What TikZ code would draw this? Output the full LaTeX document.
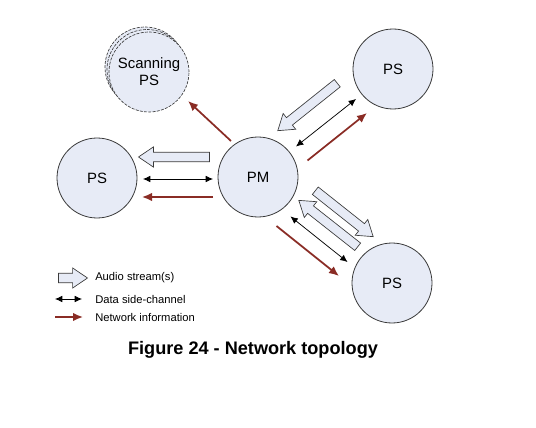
\documentclass[tikz,border=0pt]{standalone}
\usepackage{fontspec}
\setmainfont{Liberation Sans}
\usepackage{tikz}
\usetikzlibrary{arrows.meta,calc,shapes.arrows}
\definecolor{Lav}{HTML}{E7EBF6}
\definecolor{Edge}{HTML}{3A3A3A}
\definecolor{Net}{HTML}{8A2C25}

\begin{document}
\begin{tikzpicture}[x=0.75pt,y=-0.75pt,
    ps/.style={circle,draw=Edge,fill=Lav,line width=0.6pt,minimum size=60pt,inner sep=0pt,align=center,font=\fontsize{11.2}{12.8}\selectfont},
    aud/.style={single arrow,draw=Edge,fill=Lav,line width=0.5pt,inner sep=0pt,text height=3.3pt,text depth=3.3pt,single arrow head extend=4pt,single arrow tip angle=68},
    dat/.style={{Latex[length=5.5pt,width=5pt]}-{Latex[length=5.5pt,width=5pt]},line width=0.55pt},
    net/.style={-{Latex[length=7.5pt,width=6.5pt]},line width=1.3pt,draw=Net},
    lg/.style={anchor=west,inner sep=0pt,font=\fontsize{8.4}{10}\selectfont}]
  \useasboundingbox (0,0) rectangle (536,428);
  % stations
  \node[ps,dashed,dash pattern=on 2.2pt off 1pt,line width=0.5pt] (scan3) at (145,67) {};
  \node[ps,dashed,dash pattern=on 2.2pt off 1pt,line width=0.5pt] (scan2) at (147,69.5) {};
  \node[ps,dashed,dash pattern=on 2.2pt off 1pt,line width=0.5pt] (scan) at (149,72) {Scanning\\PS};
  \node[ps] (psL) at (97,178) {PS};
  \node[ps] (pm) at (258,177) {PM};
  \node[ps] (psTR) at (393,69) {PS};
  \node[ps] (psBR) at (392,283) {PS};
  % arrow ends
  \coordinate (auL1) at (213,157);   \coordinate (auL2) at (142,157);
  \coordinate (daL1) at (213,179);   \coordinate (daL2) at (143,179);
  \coordinate (neL1) at (213,197);   \coordinate (neL2) at (142,197);
  \coordinate (auT1) at (340,81);    \coordinate (auT2) at (280.5,128.5);
  \coordinate (daT1) at (296,146.5); \coordinate (daT2) at (356,99);
  \coordinate (neT1) at (307.5,160.5); \coordinate (neT2) at (367,113);
  \coordinate (auB1) at (312.5,188.5); \coordinate (auB2) at (370.5,234.5);
  \coordinate (auB3) at (360.5,249); \coordinate (auB4) at (301.5,202.5);
  \coordinate (daB1) at (290.5,216.5); \coordinate (daB2) at (347.5,262);
  \coordinate (neB1) at (276.5,226); \coordinate (neB2) at (339,276);
  \coordinate (neS1) at (231,141);   \coordinate (neS2) at (188,101);
  % legend ends
  \coordinate (lgA1) at (55,278);    \coordinate (lgA2) at (84,278);
  \coordinate (lgD1) at (55,299);    \coordinate (lgD2) at (82,299);
  \coordinate (lgN1) at (55,317);    \coordinate (lgN2) at (83,317);
  % audio streams
  \foreach \s/\t in {auL1/auL2,auT1/auT2,auB1/auB2,auB3/auB4,lgA1/lgA2}
    \path let \p1=($(\t)-(\s)$), \n1={veclen(\x1,\y1)} in
      (\s) -- node[aud,sloped,allow upside down,minimum height=\n1] (\s-arr) {} (\t);
  % side channels and network info
  \foreach \s/\t in {daL1/daL2,daT1/daT2,daB1/daB2,lgD1/lgD2}
    \draw[dat] (\s) -- (\t);
  \foreach \s/\t in {neL1/neL2,neT1/neT2,neB1/neB2,neS1/neS2,lgN1/lgN2}
    \draw[net] (\s) -- (\t);
  % legend
  \node[lg] (lgA) at (95,278) {Audio stream(s)};
  \node[lg] (lgD) at (95,299) {Data side-channel};
  \node[lg] (lgN) at (95,317) {Network information};
  \node[font=\bfseries\fontsize{13.6}{16}\selectfont,inner sep=0pt] (cap) at (253,350) {Figure 24 - Network topology};
\end{tikzpicture}
\end{document}
